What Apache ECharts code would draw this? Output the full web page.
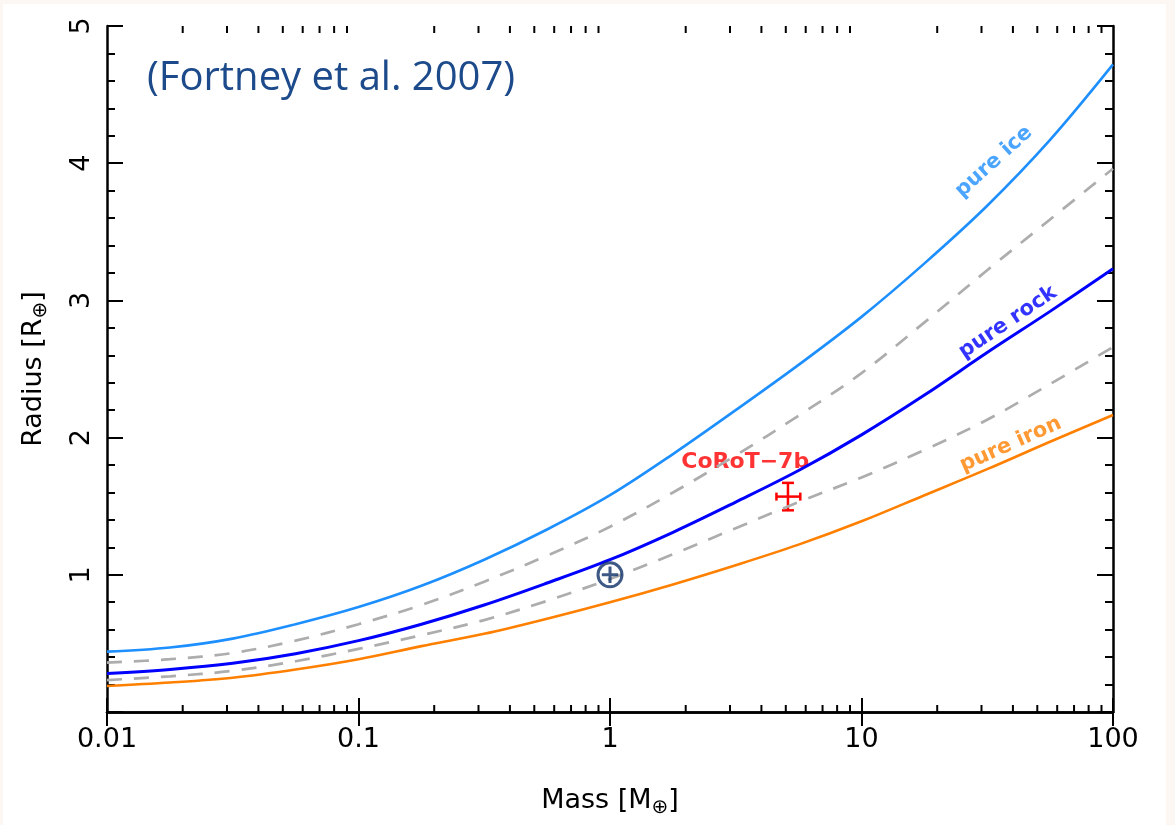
<!DOCTYPE html>
<html>
<head>
<meta charset="utf-8">
<script src="https://cdn.jsdelivr.net/npm/echarts@6/dist/echarts.min.js"></script>
<style>
  html, body { margin: 0; padding: 0; background: #fcf7f3; }
  #main { position: absolute; left: 3px; top: 4px; width: 1163px; height: 821px; background: #fff; }
</style>
</head>
<body>
<div id="main"></div>
<script>
  // masses in Earth masses (quarter decades), radii in Earth radii
  var massGrid = [0.01, 0.0178, 0.0316, 0.0562, 0.1, 0.178, 0.316, 0.562, 1,
                  1.78, 3.16, 5.62, 10, 17.8, 31.6, 56.2, 100];
  var pureIce  = [0.44, 0.47, 0.535, 0.64, 0.765, 0.92, 1.11, 1.33, 1.58,
                  1.88, 2.20, 2.53, 2.88, 3.27, 3.69, 4.17, 4.72];
  var iceRock  = [0.36, 0.385, 0.43, 0.52, 0.64, 0.78, 0.95, 1.14, 1.35,
                  1.60, 1.87, 2.16, 2.47, 2.84, 3.22, 3.59, 3.96];
  var pureRock = [0.28, 0.31, 0.355, 0.425, 0.52, 0.64, 0.78, 0.94, 1.11,
                  1.31, 1.53, 1.76, 2.02, 2.31, 2.62, 2.92, 3.23];
  var rockIron = [0.233, 0.26, 0.30, 0.37, 0.46, 0.56, 0.67, 0.81, 0.97,
                  1.15, 1.34, 1.53, 1.71, 1.91, 2.13, 2.39, 2.66];
  var pureIron = [0.19, 0.215, 0.25, 0.31, 0.385, 0.48, 0.57, 0.68, 0.80,
                  0.93, 1.07, 1.22, 1.39, 1.58, 1.77, 1.97, 2.165];

  // CoRoT-7b: [mass, radius, massLow, massHigh, radiusLow, radiusHigh]
  var corot = [5.1, 1.57, 4.59, 5.71, 1.47, 1.67];
  var earth = [1, 1];

  // text labels: [mass, radius, text, angle, colour]
  var curveLabels = [
    [33.6, 4.01, 'pure ice', 42, '#1e8fff'],
    [38.2, 2.84, 'pure rock', 34, '#0000ff'],
    [39.2, 1.95, 'pure iron', 24, '#ff8000'],
    [3.45, 1.82, 'CoRoT\u22127b', 0, '#ff0000']
  ];

  var decades = [0.01, 0.1, 1, 10];
  var minorMult = [2, 3, 4, 5, 6, 7, 8, 9];
  var minorTicks = [];
  decades.forEach(function (d) {
    minorMult.forEach(function (k) { minorTicks.push([d * k, 0]); });
  });

  var FONT = 'DejaVu Sans';

  function pairs(ys) {
    return massGrid.map(function (m, i) { return [m, ys[i]]; });
  }

  var chart = echarts.init(document.getElementById('main'));

  var axisLine = { lineStyle: { color: '#000', width: 2.5 } };
  var tickStyle = { color: '#000', width: 2 };
  var nameStyle = {
    color: '#000', fontSize: 27, fontFamily: FONT,
    rich: { s: { fontSize: 20, fontFamily: FONT, color: '#000', padding: [14, 0, 0, 0] } }
  };

  var option = {
    backgroundColor: '#fff',
    animation: false,
    grid: { left: 104, top: 22, right: 53, bottom: 113 },
    graphic: [{
      type: 'text',
      left: 144,
      top: 55,
      style: { text: '(Fortney et al. 2007)', font: '40px "Open Sans"', fill: '#1c4a8a' }
    }],
    xAxis: [{
      type: 'log',
      logBase: 10,
      min: 0.01,
      max: 100,
      position: 'bottom',
      axisLine: axisLine,
      axisTick: { inside: true, length: 14, lineStyle: tickStyle },
      splitLine: { show: false },
      axisLabel: {
        color: '#000', fontSize: 27, fontFamily: FONT, margin: 14,
        formatter: function (v) { return String(parseFloat(v.toPrecision(6))); }
      },
      name: 'Mass [M{s|\u2295}]',
      nameLocation: 'middle',
      nameGap: 72,
      nameTextStyle: nameStyle
    }, {
      type: 'log',
      logBase: 10,
      min: 0.01,
      max: 100,
      position: 'top',
      axisLine: axisLine,
      axisTick: { inside: true, length: 14, lineStyle: tickStyle },
      splitLine: { show: false },
      axisLabel: { show: false }
    }],
    yAxis: [{
      type: 'value',
      min: 0,
      max: 5,
      interval: 1,
      position: 'left',
      axisLine: axisLine,
      axisTick: { inside: true, length: 16, lineStyle: tickStyle },
      minorTick: { show: true, splitNumber: 5, length: 8, lineStyle: tickStyle },
      splitLine: { show: false },
      axisLabel: {
        color: '#000', fontSize: 27, fontFamily: FONT, rotate: 90, margin: 12,
        showMinLabel: false
      },
      name: 'Radius [R{s|\u2295}]',
      nameLocation: 'middle',
      nameGap: 56,
      nameRotate: 90,
      nameTextStyle: nameStyle
    }, {
      type: 'value',
      min: 0,
      max: 5,
      interval: 1,
      position: 'right',
      axisLine: axisLine,
      axisTick: { inside: true, length: 16, lineStyle: tickStyle },
      minorTick: { show: true, splitNumber: 5, length: 8, lineStyle: tickStyle },
      splitLine: { show: false },
      axisLabel: { show: false }
    }],
    series: [
      {
        type: 'custom',
        silent: true,
        clip: false,
        data: minorTicks,
        renderItem: function (params, api) {
          var b = api.coord([api.value(0), 0]);
          var t = api.coord([api.value(0), 5]);
          return {
            type: 'group',
            children: [
              { type: 'line', shape: { x1: b[0], y1: b[1], x2: b[0], y2: b[1] - 7 }, style: { stroke: '#000', lineWidth: 2 } },
              { type: 'line', shape: { x1: t[0], y1: t[1], x2: t[0], y2: t[1] + 7 }, style: { stroke: '#000', lineWidth: 2 } }
            ]
          };
        }
      },
      { name: 'ice/rock', type: 'line', smooth: 0.35, showSymbol: false, data: pairs(iceRock),
        lineStyle: { color: '#adadad', width: 2.7, type: [15, 12] } },
      { name: 'rock/iron', type: 'line', smooth: 0.35, showSymbol: false, data: pairs(rockIron),
        lineStyle: { color: '#adadad', width: 2.7, type: [15, 12] } },
      { name: 'pure ice', type: 'line', smooth: 0.35, showSymbol: false, data: pairs(pureIce),
        lineStyle: { color: '#1e8fff', width: 2.6 } },
      { name: 'pure rock', type: 'line', smooth: 0.35, showSymbol: false, data: pairs(pureRock),
        lineStyle: { color: '#0000ff', width: 3 } },
      { name: 'pure iron', type: 'line', smooth: 0.35, showSymbol: false, data: pairs(pureIron),
        lineStyle: { color: '#ff8000', width: 2.6 } },
      {
        name: 'labels',
        type: 'scatter',
        symbolSize: 0,
        silent: true,
        data: curveLabels.map(function (l) {
          return {
            value: [l[0], l[1]],
            label: { show: true, position: 'inside', formatter: l[2], rotate: l[3], color: l[4],
                     fontSize: l[3] ? 21 : 22 }
          };
        }),
        label: { fontFamily: FONT, fontWeight: 'bold' }
      },
      {
        name: 'Earth',
        type: 'scatter',
        data: [earth],
        symbol: 'path://M50,6 A44,44 0 1,1 49.9,6 Z M50,20 L50,80 M20,50 L80,50',
        symbolSize: 24,
        itemStyle: { color: 'rgba(0,0,0,0)', borderColor: '#0f3068', borderWidth: 3 },
        z: 5
      },
      {
        name: 'CoRoT-7b',
        type: 'custom',
        data: [corot],
        renderItem: function (params, api) {
          var m = api.value(0), r = api.value(1);
          var l = api.coord([api.value(2), r]);
          var rr = api.coord([api.value(3), r]);
          var lo = api.coord([m, api.value(4)]);
          var hi = api.coord([m, api.value(5)]);
          var st = { stroke: '#ff0000', lineWidth: 2.5 };
          return {
            type: 'group',
            children: [
              { type: 'line', shape: { x1: l[0], y1: l[1], x2: rr[0], y2: rr[1] }, style: st },
              { type: 'line', shape: { x1: lo[0], y1: lo[1], x2: hi[0], y2: hi[1] }, style: st },
              { type: 'line', shape: { x1: l[0], y1: l[1] - 4, x2: l[0], y2: l[1] + 4 }, style: st },
              { type: 'line', shape: { x1: rr[0], y1: rr[1] - 4, x2: rr[0], y2: rr[1] + 4 }, style: st },
              { type: 'line', shape: { x1: lo[0] - 6, y1: lo[1], x2: lo[0] + 6, y2: lo[1] }, style: st },
              { type: 'line', shape: { x1: hi[0] - 6, y1: hi[1], x2: hi[0] + 6, y2: hi[1] }, style: st }
            ]
          };
        }
      }
    ]
  };

  chart.setOption(option);
</script>
</body>
</html>
